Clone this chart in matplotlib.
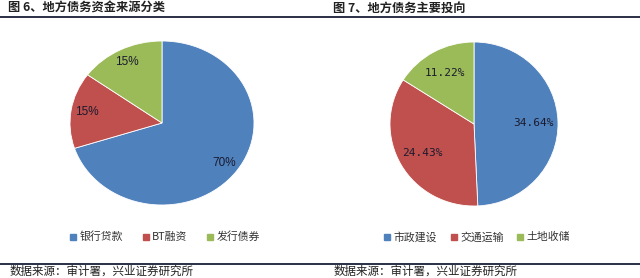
import numpy as np
import matplotlib.pyplot as plt
from matplotlib.lines import Line2D

plt.rcParams['font.family'] = ['Noto Sans CJK SC', 'DejaVu Sans']

W, H = 640, 278
COLORS = ['#4F81BD', '#C0504D', '#9BBB59']

# left chart: funding sources
src_names = ['银行贷款', 'BT融资', '发行债券']
src_vals = [70, 15, 15]
src_labels = ['70%', '15%', '15%']

# right chart: where the debt goes
use_names = ['市政建设', '交通运输', '土地收储']
use_vals = [34.64, 24.43, 11.22]
use_labels = ['34.64%', '24.43%', '11.22%']

title_left = '图 6、地方债务资金来源分类'
title_right = '图 7、地方债务主要投向'
source_text = '数据来源：审计署，兴业证券研究所'

fig = plt.figure(figsize=(W / 100, H / 100), dpi=100)


def px_axes(left, top, right, bottom):
    return fig.add_axes([left / W, 1 - bottom / H, (right - left) / W, (bottom - top) / H])


def draw_pie(box, vals, labels, pct_r, font, fs):
    ax = px_axes(*box)
    wedges, _ = ax.pie(vals, colors=COLORS, startangle=90, counterclock=False,
                       radius=1.0, wedgeprops=dict(linewidth=0.6, edgecolor='white'))
    for w, lab in zip(wedges, labels):
        mid = np.deg2rad((w.theta1 + w.theta2) / 2)
        ax.text(pct_r * np.cos(mid), pct_r * np.sin(mid), lab, ha='center', va='center',
                fontsize=fs, color='#1a1a2e', family=font)
    ax.set_aspect('auto')
    ax.set_xlim(-1, 1)
    ax.set_ylim(-1, 1)
    ax.axis('off')


draw_pie((70, 41, 254, 205), src_vals, src_labels, 0.83, ['Liberation Sans'], 8.5)
draw_pie((390, 42, 558, 206), use_vals, use_labels, 0.71, ['DejaVu Sans Mono'], 8)

# legends
for names, cx, gap in [(src_names, 165 / W, 1.8), (use_names, 477 / W, 1.2)]:
    handles = [Line2D([], [], marker='s', linestyle='none', markersize=4,
                      markerfacecolor=c, markeredgecolor=c) for c in COLORS]
    fig.legend(handles, names, loc='center', bbox_to_anchor=(cx, 1 - 237 / H), ncol=3,
               frameon=False, fontsize=7.8, handlelength=0.6, handletextpad=0.3,
               columnspacing=gap, labelcolor='#333333')

# titles and rules
fig.text(8 / W, 1 - 8 / H, title_left, fontsize=8.8, fontweight='bold', va='center', color='#222222')
fig.text(333 / W, 1 - 8 / H, title_right, fontsize=8.8, fontweight='bold', va='center', color='#222222')
fig.add_artist(Line2D([0, 1], [1 - 16.5 / H] * 2, color='#2b2f45', lw=1.4))
fig.add_artist(Line2D([0, 1], [1 - 264 / H] * 2, color='#2b2f45', lw=1.4))
fig.text(10 / W, 1 - 271 / H, source_text, fontsize=8.3, va='center', color='#222222')
fig.text(334 / W, 1 - 271 / H, source_text, fontsize=8.3, va='center', color='#222222')

fig.savefig('out.png', dpi=100, facecolor='white')
